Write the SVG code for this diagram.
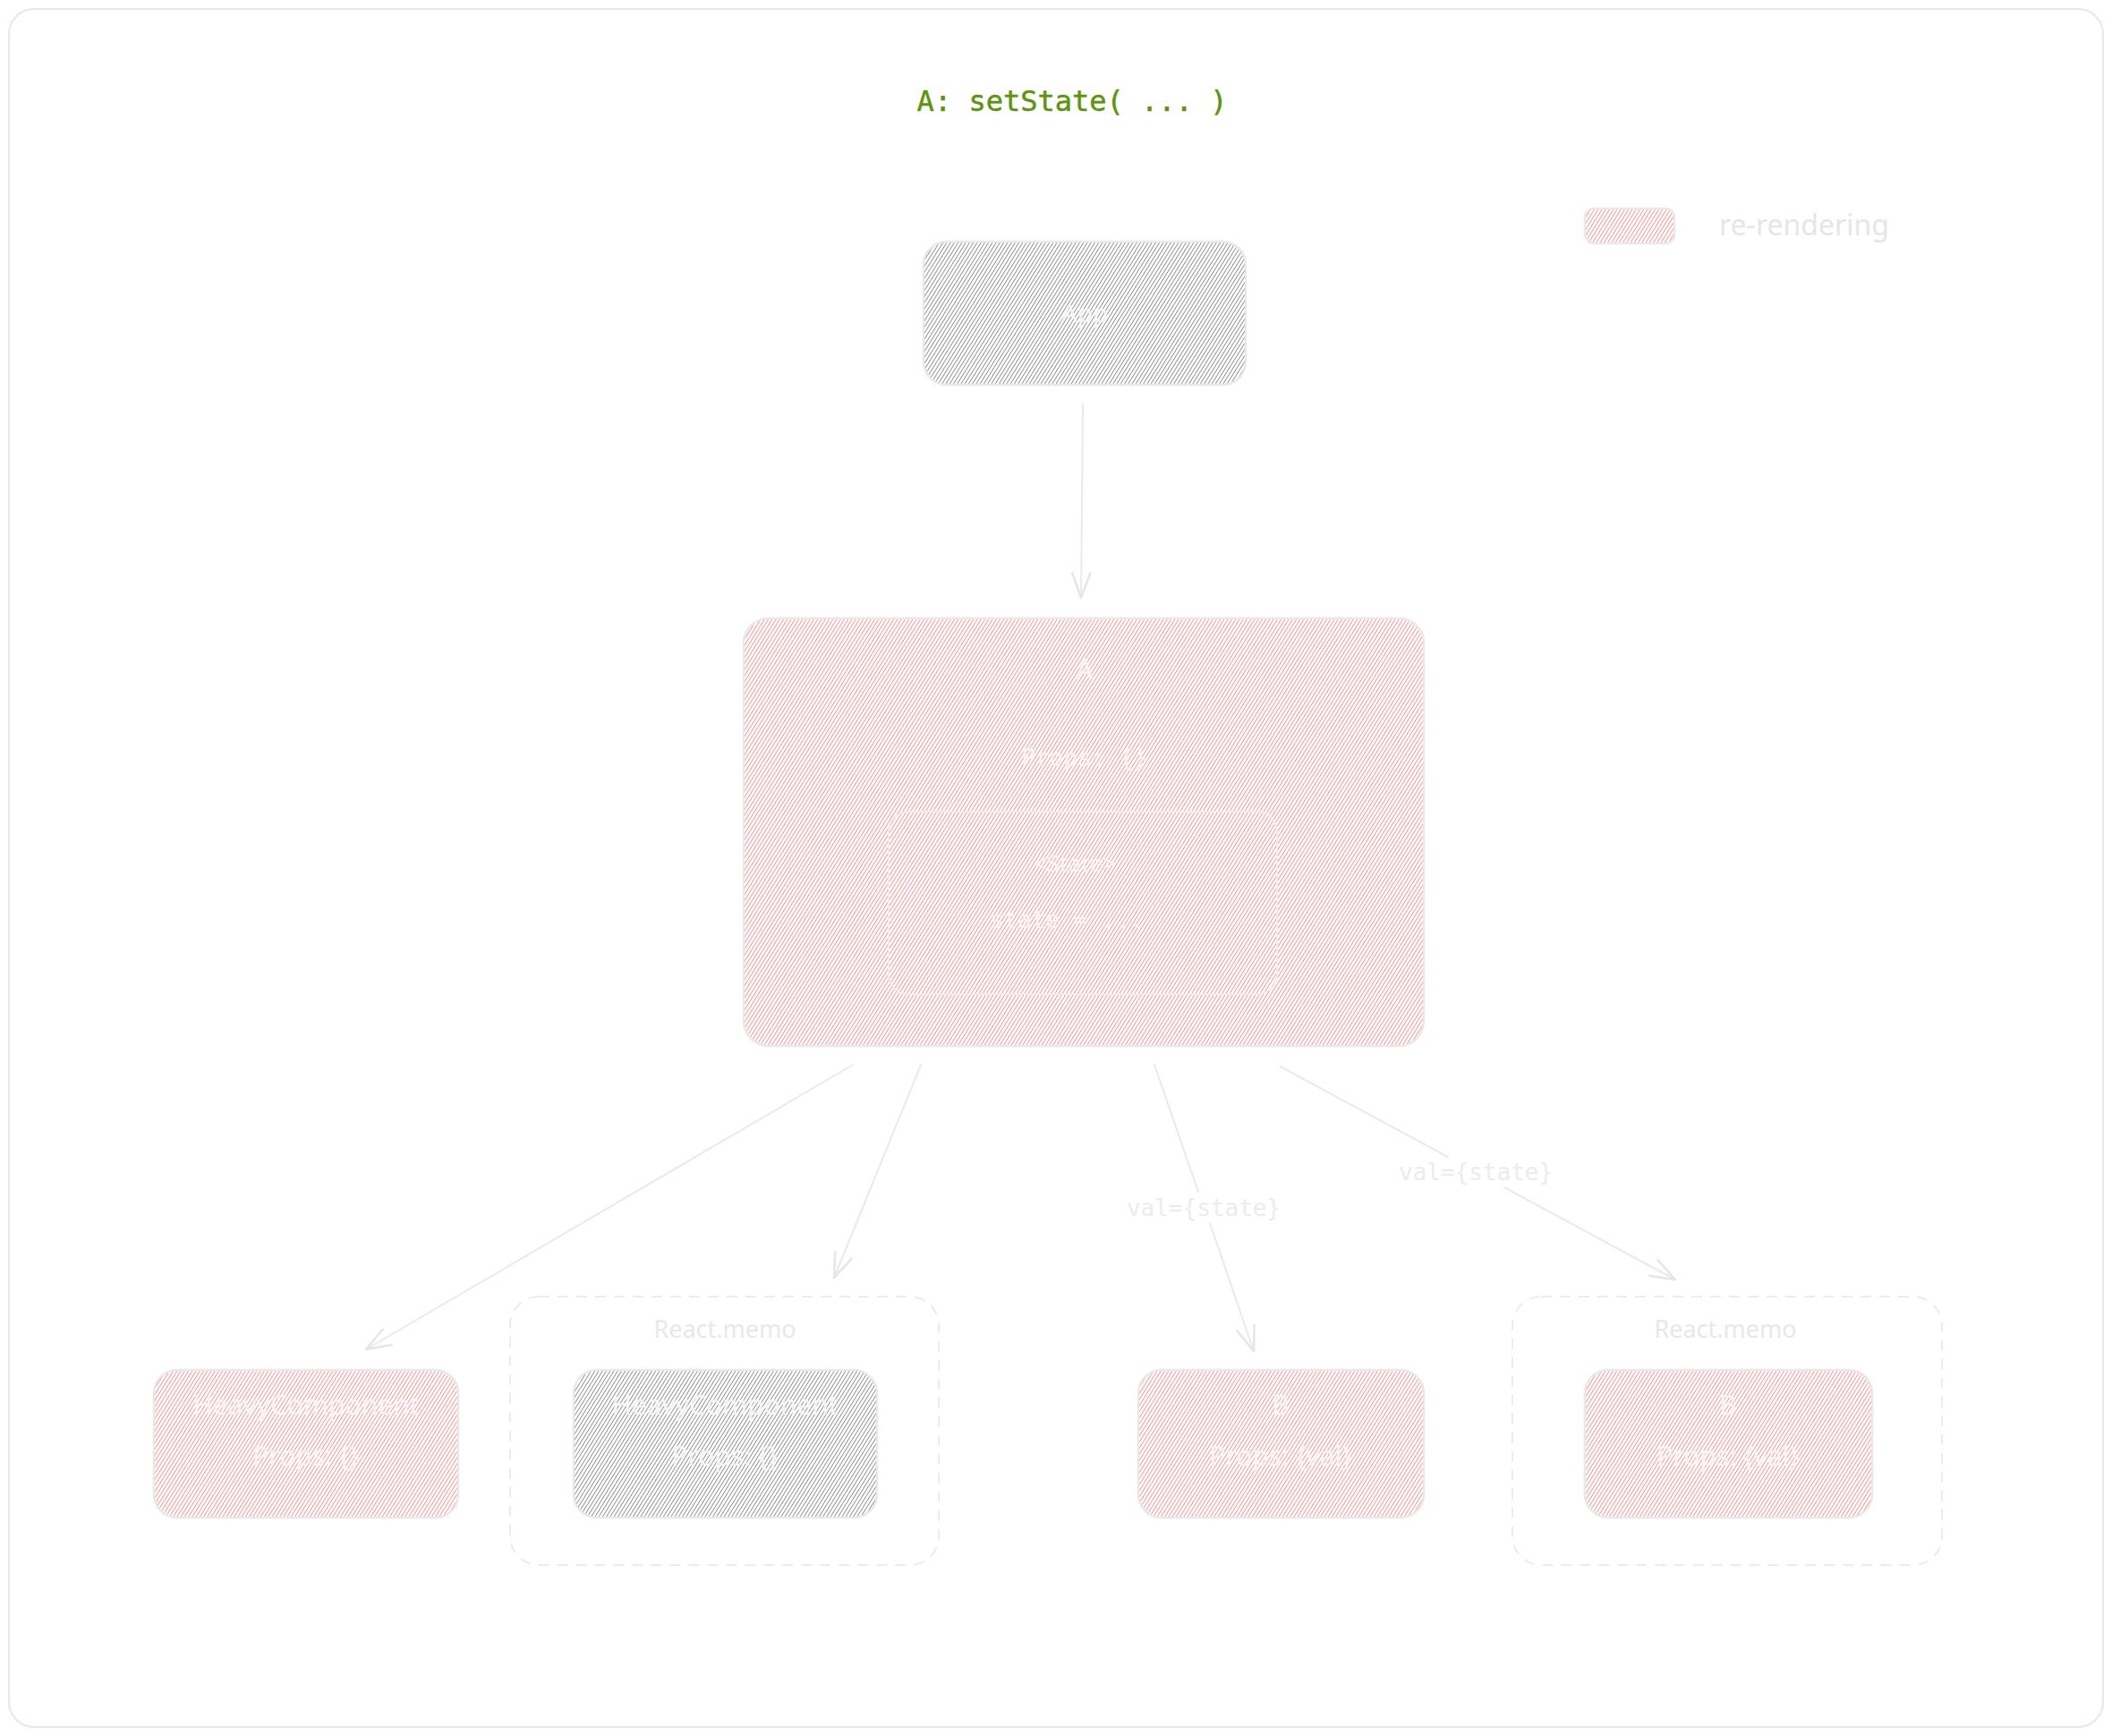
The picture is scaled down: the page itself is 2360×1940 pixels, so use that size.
<svg xmlns="http://www.w3.org/2000/svg" width="2360" height="1940" viewBox="0 0 2360 1940">
<defs>
<pattern id="hRed" width="3.6" height="4" patternUnits="userSpaceOnUse" patternTransform="rotate(32)">
<rect width="3.6" height="4" fill="#ffffff"/>
<line x1="0" y1="0" x2="0" y2="4" stroke="#ff8e8e" stroke-width="1.8"/>
</pattern>
<pattern id="hGray" width="3.6" height="4" patternUnits="userSpaceOnUse" patternTransform="rotate(32)">
<rect width="3.6" height="4" fill="#ffffff"/>
<line x1="0" y1="0" x2="0" y2="4" stroke="#8c8c8c" stroke-width="1.8"/>
</pattern>
<marker id="arr" viewBox="0 0 24 20" refX="23" refY="10" markerWidth="30" markerHeight="25" markerUnits="userSpaceOnUse" orient="auto">
<path d="M1,2 L23,10 L1,18" fill="none" stroke="#e6e6e6" stroke-width="2" stroke-linecap="round" stroke-linejoin="round"/>
</marker>
<style>
.node{stroke:#e9e9e9;stroke-width:2.5}
.red{fill:url(#hRed)}
.gray{fill:url(#hGray)}
.memo{fill:none;stroke:#ececec;stroke-width:2;stroke-dasharray:12 9}
.hand{font-family:"Noto Sans","Liberation Sans",sans-serif;fill:#f4f4f4;text-anchor:middle}
.mono{font-family:"DejaVu Sans Mono","Liberation Mono",monospace;fill:#f4f4f4;text-anchor:middle}
.lbl{font-family:"DejaVu Sans Mono","Liberation Mono",monospace;fill:#ececec;text-anchor:middle;font-size:26px}
.conn{stroke:#eaeaea;stroke-width:2;fill:none;stroke-linecap:round}
</style>
</defs>
<rect x="10" y="10" width="2340" height="1920" rx="28" fill="#ffffff" stroke="#e8e8e8" stroke-width="2"/>
<text x="1198" y="124" font-family="DejaVu Sans Mono, Liberation Mono, monospace" font-size="32" fill="#5c940d" stroke="#5c940d" stroke-width="0.5" text-anchor="middle">A: setState( ... )</text>

<g id="legend">
<rect x="1771" y="233" width="100" height="39" rx="10" class="node red"/>
<text x="2016" y="263" class="hand" font-size="32" style="fill:#e6e6e6">re-rendering</text>
</g>

<g id="app">
<rect x="1032" y="270" width="360" height="160" rx="26" class="node gray"/>
<text x="1212" y="360" class="hand" font-size="28">App</text>
</g>

<g id="a">
<rect x="831" y="691" width="760" height="478" rx="28" class="node red"/>
<text x="1212" y="759" class="mono" font-size="32">A</text>
<text x="1212" y="856" class="mono" font-size="26">Props: {}</text>
<g id="state">
<rect x="993" y="907" width="434" height="204" rx="22" fill="none" stroke="#ededed" stroke-width="2"/>
<text x="1201" y="974" class="hand" font-size="26">&lt;State&gt;</text>
<text x="1192" y="1037" class="mono" font-size="26">state = ...</text>
</g>
</g>

<g id="memo1">
<rect x="570" y="1449" width="479" height="300" rx="32" class="memo"/>
<text x="810" y="1495" class="hand" font-size="27" style="fill:#e8e8e8">React.memo</text>
</g>
<g id="memo2">
<rect x="1690" y="1449" width="480" height="300" rx="32" class="memo"/>
<text x="1928" y="1495" class="hand" font-size="27" style="fill:#e8e8e8">React.memo</text>
</g>

<g id="heavy1">
<rect x="172" y="1531" width="340" height="165" rx="26" class="node red"/>
<text x="342" y="1581" class="hand" font-size="30">HeavyComponent</text>
<text x="342" y="1638" class="hand" font-size="30">Props: {}</text>
</g>
<g id="heavy2">
<rect x="641" y="1531" width="339" height="165" rx="26" class="node gray"/>
<text x="810" y="1581" class="hand" font-size="30">HeavyComponent</text>
<text x="810" y="1638" class="hand" font-size="30">Props: {}</text>
</g>
<g id="b1">
<rect x="1272" y="1531" width="319" height="165" rx="26" class="node red"/>
<text x="1431" y="1581" class="hand" font-size="30">B</text>
<text x="1431" y="1638" class="hand" font-size="30">Props: {val}</text>
</g>
<g id="b2">
<rect x="1771" y="1531" width="321" height="165" rx="26" class="node red"/>
<text x="1931" y="1581" class="hand" font-size="30">B</text>
<text x="1931" y="1638" class="hand" font-size="30">Props: {val}</text>
</g>

<g id="connectors">
<line x1="1210" y1="452" x2="1208" y2="668" class="conn" marker-end="url(#arr)"/>
<line x1="953" y1="1190" x2="409" y2="1508" class="conn" marker-end="url(#arr)"/>
<line x1="1029" y1="1190" x2="932" y2="1428" class="conn" marker-end="url(#arr)"/>
<line x1="1290" y1="1190" x2="1339" y2="1332" class="conn"/>
<line x1="1352" y1="1367" x2="1401" y2="1510" class="conn" marker-end="url(#arr)"/>
<text x="1345" y="1359" class="lbl">val={state}</text>
<line x1="1431" y1="1192" x2="1618" y2="1293" class="conn"/>
<line x1="1681" y1="1327" x2="1872" y2="1430" class="conn" marker-end="url(#arr)"/>
<text x="1649" y="1319" class="lbl">val={state}</text>
</g>
</svg>
